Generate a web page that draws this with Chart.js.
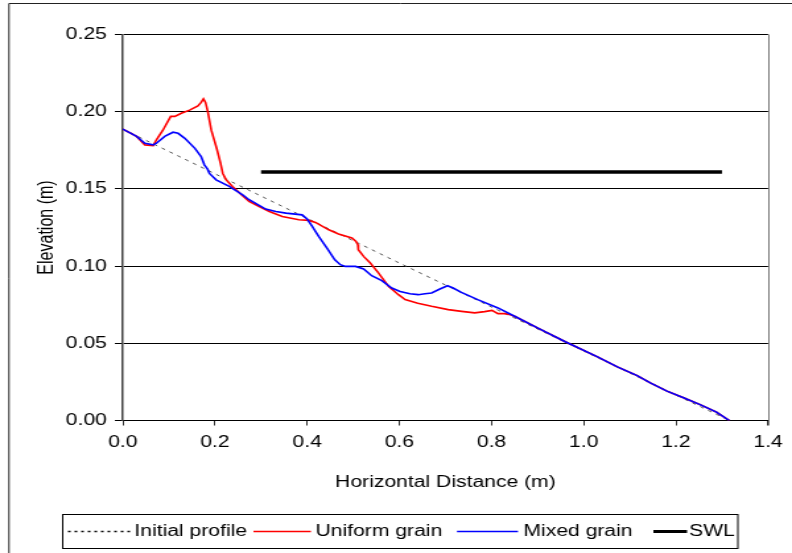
<!DOCTYPE html>
<html>
<head>
<meta charset="utf-8">
<script src="https://cdn.jsdelivr.net/npm/chart.js@4.4.1/dist/chart.umd.min.js"></script>
<style>
  html, body { margin: 0; padding: 0; background: #fff; }
  /* the figure is laid out at 600px and widened to 792px */
  #wrap { width: 600px; height: 553px; transform: scaleX(1.32); transform-origin: 0 0; }
  canvas { display: block; }
</style>
</head>
<body>
<div id="wrap"><canvas id="chart"></canvas></div>
<script>
// Beach profile measurements (m)
const initialX = [0, 0.60, 1.316];
const initialY = [0.1887, 0.1020, 0];

const uniformX = [0, 0.030, 0.048, 0.066, 0.073, 0.087, 0.104, 0.113, 0.127, 0.145, 0.163, 0.170, 0.175, 0.1795, 0.1845,
  0.192, 0.204, 0.212, 0.217, 0.224, 0.238, 0.260, 0.274, 0.296, 0.318, 0.346, 0.382, 0.404, 0.418, 0.447, 0.468, 0.497,
  0.506, 0.510, 0.511, 0.5225, 0.537, 0.555, 0.5765, 0.598, 0.6125, 0.640, 0.670, 0.706, 0.735, 0.7635, 0.785, 0.801,
  0.814, 0.828, 0.839, 0.850, 0.904, 0.960, 1.030, 1.073, 1.116, 1.1445, 1.1806, 1.2166, 1.2525, 1.288, 1.316];
const uniformY = [0.1887, 0.184, 0.1785, 0.178, 0.1818, 0.188, 0.197, 0.197, 0.199, 0.201, 0.2037, 0.206, 0.2083, 0.206, 0.200,
  0.188, 0.176, 0.1667, 0.160, 0.156, 0.1516, 0.1455, 0.1419, 0.1386, 0.1354, 0.1321, 0.130, 0.1296, 0.1283, 0.1235, 0.1208, 0.1182,
  0.116, 0.1138, 0.1106, 0.1063, 0.102, 0.0955, 0.0869, 0.0815, 0.0783, 0.0760, 0.0740, 0.0718, 0.0707, 0.0697, 0.0705, 0.0713,
  0.0692, 0.0692, 0.0686, 0.0675, 0.0593, 0.0510, 0.0412, 0.0347, 0.0291, 0.0244, 0.0190, 0.0147, 0.0103, 0.0054, 0];

const mixedX = [0, 0.030, 0.048, 0.066, 0.073, 0.091, 0.109, 0.120, 0.134, 0.156, 0.170, 0.177, 0.184, 0.188, 0.2026, 0.231,
  0.260, 0.274, 0.310, 0.332, 0.354, 0.389, 0.400, 0.411, 0.425, 0.443, 0.460, 0.472, 0.483, 0.505, 0.5225, 0.540, 0.562,
  0.5835, 0.6017, 0.623, 0.641, 0.6557, 0.670, 0.688, 0.7045, 0.7167, 0.7346, 0.770, 0.814, 0.850, 0.904, 0.960, 1.030,
  1.073, 1.116, 1.1445, 1.1806, 1.2166, 1.2525, 1.288, 1.316];
const mixedY = [0.1887, 0.184, 0.1796, 0.1785, 0.1796, 0.184, 0.1867, 0.186, 0.1829, 0.1764, 0.171, 0.1656, 0.1628, 0.160, 0.1559, 0.1516,
  0.1462, 0.143, 0.1369, 0.1354, 0.1343, 0.1332, 0.1305, 0.1257, 0.1192, 0.1117, 0.1041, 0.1009, 0.0998, 0.0998, 0.0981, 0.0938, 0.0906,
  0.0858, 0.0836, 0.0821, 0.0815, 0.0821, 0.0826, 0.0852, 0.0873, 0.0858, 0.0830, 0.0783, 0.0729, 0.0675, 0.0593, 0.0510, 0.0412,
  0.0347, 0.0291, 0.0244, 0.0190, 0.0147, 0.0103, 0.0054, 0];

const swlX = [0.3, 1.3];
const swlY = [0.161, 0.161];

const xTicks = [0, 0.2, 0.4, 0.6, 0.8, 1.0, 1.2, 1.4];
const yTicks = [0, 0.05, 0.10, 0.15, 0.20, 0.25];

const pts = (xs, ys) => xs.map((x, i) => ({ x: x, y: ys[i] }));

const FONT = "'Liberation Sans', Arial, sans-serif";

// legend sample positions along the bottom box
const legendSlots = [
  { x0: 51.5, x1: 99.5, tx: 101.8 },
  { x0: 192.0, x1: 235.5, tx: 239.0 },
  { x0: 346.2, x1: 392.4, tx: 396.5 },
  { x0: 495.0, x1: 520.5, tx: 522.0 }
];

const framePlugin = {
  id: 'frame',
  beforeDraw(chart) {
    const ctx = chart.ctx;
    ctx.save();
    ctx.fillStyle = '#fff';
    ctx.fillRect(0, 0, chart.width, chart.height);
    ctx.strokeStyle = '#222';
    ctx.lineWidth = 1;
    ctx.beginPath();
    ctx.moveTo(6.8, chart.height);
    ctx.lineTo(6.8, 3.5);
    ctx.lineTo(chart.width, 3.5);
    ctx.stroke();
    ctx.restore();
  },
  afterDraw(chart) {
    const ctx = chart.ctx;
    const a = chart.chartArea;
    ctx.save();
    // right edge of the plot area
    ctx.strokeStyle = '#7a7a7a';
    ctx.lineWidth = 1;
    ctx.beginPath();
    ctx.moveTo(Math.round(a.right) + 0.5, a.top);
    ctx.lineTo(Math.round(a.right) + 0.5, a.bottom + 5);
    ctx.stroke();

    // legend box
    ctx.strokeStyle = '#000';
    ctx.lineWidth = 1;
    ctx.strokeRect(47.5, 514.5, 511.5, 34);
    const cy = 531.5;
    ctx.font = '16px ' + FONT;
    ctx.textBaseline = 'middle';
    ctx.textAlign = 'left';
    chart.data.datasets.forEach((ds, i) => {
      const s = legendSlots[i];
      ctx.save();
      ctx.strokeStyle = ds.legendColor || ds.borderColor;
      ctx.lineWidth = ds.legendWidth || ds.borderWidth;
      ctx.setLineDash(ds.legendDash || []);
      ctx.beginPath();
      ctx.moveTo(s.x0, cy);
      ctx.lineTo(s.x1, cy);
      ctx.stroke();
      ctx.restore();
      ctx.fillStyle = '#000';
      ctx.fillText(ds.label, s.tx, cy);
    });
    ctx.restore();
  }
};

new Chart(document.getElementById('chart'), {
  type: 'scatter',
  data: {
    datasets: [
      {
        label: 'Initial profile',
        data: pts(initialX, initialY),
        borderColor: '#555',
        borderWidth: 1,
        borderDash: [3, 4],
        legendColor: '#000',
        legendWidth: 1.5,
        legendDash: [2, 3],
        order: 2
      },
      {
        label: 'Uniform grain',
        data: pts(uniformX, uniformY),
        borderColor: '#ff0000',
        borderWidth: 1.6,
        order: 1
      },
      {
        label: 'Mixed grain',
        data: pts(mixedX, mixedY),
        borderColor: '#0000ff',
        borderWidth: 1.6,
        order: 0
      },
      {
        label: 'SWL',
        data: pts(swlX, swlY),
        borderColor: '#000',
        borderWidth: 3.5,
        legendWidth: 3,
        order: 3
      }
    ]
  },
  options: {
    responsive: true,
    maintainAspectRatio: false,
    animation: false,
    showLine: true,
    elements: {
      point: { radius: 0, hoverRadius: 0 },
      line: { tension: 0, fill: false, borderCapStyle: 'butt' }
    },
    layout: { padding: { left: 0, right: 15.4, top: 34.5, bottom: 0 } },
    plugins: {
      legend: { display: false },
      tooltip: { enabled: false }
    },
    scales: {
      x: {
        type: 'linear',
        min: 0,
        max: 1.4,
        afterBuildTicks(scale) { scale.ticks = xTicks.map(v => ({ value: v })); },
        afterFit(scale) { scale.height = 132.5; },
        grid: { drawOnChartArea: false, drawTicks: true, tickLength: 5, color: '#333', lineWidth: 1 },
        border: { display: true, color: '#000', width: 1 },
        ticks: {
          color: '#000',
          padding: 7,
          font: { family: FONT, size: 16 },
          maxRotation: 0,
          callback: v => Number(v).toFixed(1)
        },
        title: {
          display: true,
          text: 'Horizontal Distance (m)',
          color: '#000',
          font: { family: FONT, size: 16 },
          padding: { top: 0, bottom: 60.5 }
        }
      },
      y: {
        type: 'linear',
        min: 0,
        max: 0.25,
        afterBuildTicks(scale) { scale.ticks = yTicks.map(v => ({ value: v })); },
        afterFit(scale) { scale.width = 93; },
        grid: { color: '#000', lineWidth: 1, drawTicks: true, tickLength: 6 },
        border: { display: true, color: '#444', width: 1.5 },
        ticks: {
          color: '#000',
          padding: 6,
          font: { family: FONT, size: 16 },
          callback: v => Number(v).toFixed(2)
        },
        title: {
          display: true,
          text: 'Elevation (m)',
          color: '#000',
          font: { family: FONT, size: 16 },
          padding: { top: 25.5, bottom: 0 }
        }
      }
    }
  },
  plugins: [framePlugin]
});
</script>
</body>
</html>
